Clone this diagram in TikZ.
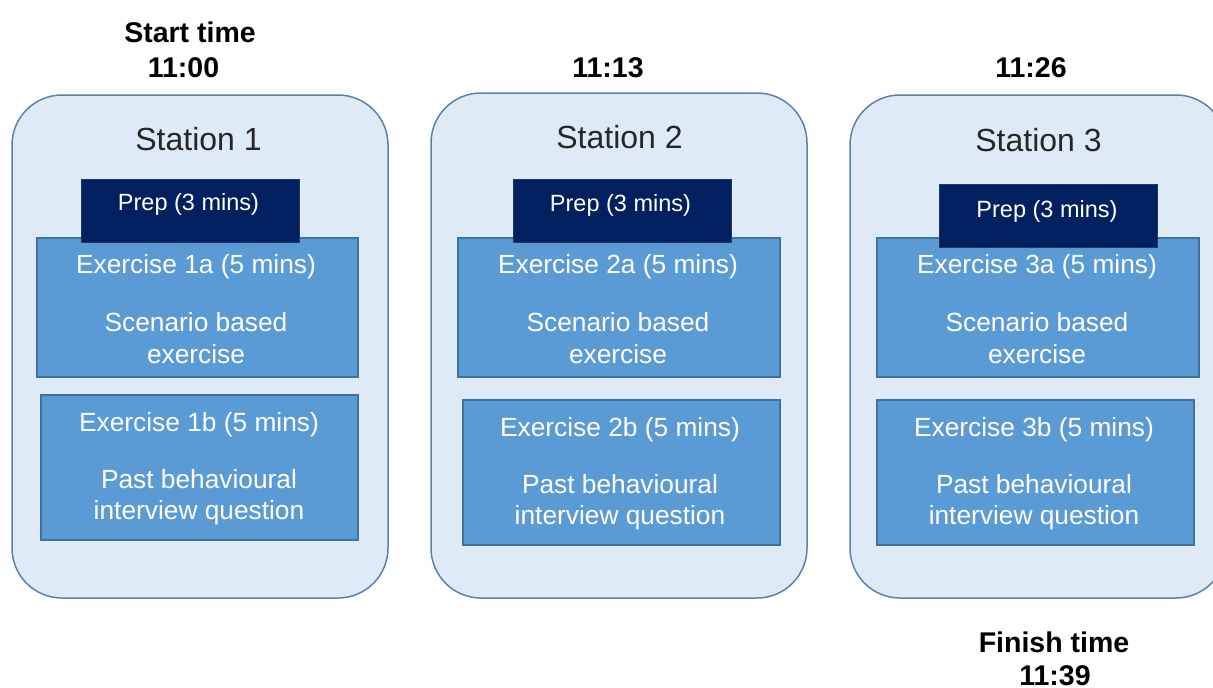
\documentclass[tikz,border=0pt]{standalone}
\usepackage{fontspec}
\setmainfont{Liberation Sans}
\definecolor{stationfill}{HTML}{DEEBF7}
\definecolor{stationline}{HTML}{5B82AC}
\definecolor{exfill}{HTML}{5B9BD5}
\definecolor{exline}{HTML}{41719C}
\definecolor{prepfill}{HTML}{002060}
\definecolor{prepline}{HTML}{1F3864}
\definecolor{titletext}{HTML}{262626}
\begin{document}
\begin{tikzpicture}[x=1pt,y=-1pt,
  station/.style={draw=stationline, fill=stationfill, line width=1.5pt,
    rounded corners=50pt, minimum width=376pt, inner sep=0pt},
  exbox/.style={draw=exline, fill=exfill, line width=1.2pt, inner sep=0pt},
  prepbox/.style={draw=prepline, fill=prepfill, line width=1pt, inner sep=0pt,
    minimum width=218pt, minimum height=63pt},
  stationlabel/.style={anchor=base, inner sep=0pt, text=titletext,
    font=\fontsize{32}{38}\selectfont},
  preplabel/.style={anchor=base, inner sep=0pt, text=white,
    font=\fontsize{23.5}{28}\selectfont},
  exlabel/.style={anchor=base, inner sep=0pt, text=white,
    font=\fontsize{26.3}{31}\selectfont},
  timelabel/.style={anchor=base, inner sep=0pt, text=black,
    font=\fontsize{28.5}{34}\selectfont\bfseries}]
\useasboundingbox (0,0) rectangle (1213,688);
\clip (0,0) rectangle (1213,688);

% start / intermediate / finish times
\node[timelabel] (start) at (190,42) {Start time};
\node[timelabel] (t1) at (183.5,77) {11:00};
\node[timelabel] (t2) at (608,77) {11:13};
\node[timelabel] (t3) at (1031,77) {11:26};
\node[timelabel] (finish) at (1054,652) {Finish time};
\node[timelabel] (t4) at (1055,685) {11:39};

% station frames
\node[station, minimum height=503pt] (s1) at (200,346.5) {};
\node[station, minimum height=505pt] (s2) at (619,345.5) {};
\node[station, minimum height=503pt] (s3) at (1038,346.5) {};

\node[stationlabel] (s1t) at (198.5,150) {Station 1};
\node[stationlabel] (s2t) at (619.5,148) {Station 2};
\node[stationlabel] (s3t) at (1038.5,151) {Station 3};

% exercise blocks
\node[exbox, minimum width=321pt, minimum height=139pt] (e1a) at (197.5,307.5) {};
\node[exbox, minimum width=317pt, minimum height=145pt] (e1b) at (199.5,467.5) {};
\node[exbox, minimum width=322pt, minimum height=139pt] (e2a) at (619,307.5) {};
\node[exbox, minimum width=317pt, minimum height=145pt] (e2b) at (621.5,472.5) {};
\node[exbox, minimum width=322pt, minimum height=139pt] (e3a) at (1038,307.5) {};
\node[exbox, minimum width=317pt, minimum height=145pt] (e3b) at (1035.5,472.5) {};

% preparation blocks, drawn over the top of the first exercise
\node[prepbox] (p1) at (190,210.5) {};
\node[prepbox] (p2) at (622,210.5) {};
\node[prepbox] (p3) at (1048,215.5) {};

\node[preplabel] (p1t) at (188.5,210) {Prep (3 mins)};
\node[preplabel] (p2t) at (620.5,211) {Prep (3 mins)};
\node[preplabel] (p3t) at (1047,217) {Prep (3 mins)};

% station 1 texts
\node[exlabel] (e1a1) at (196,273) {Exercise 1a (5 mins)};
\node[exlabel] (e1a2) at (196,331) {Scenario based};
\node[exlabel] (e1a3) at (196,363) {exercise};
\node[exlabel] (e1b1) at (199,431.5) {Exercise 1b (5 mins)};
\node[exlabel] (e1b2) at (199,488) {Past behavioural};
\node[exlabel] (e1b3) at (199,519) {interview question};

% station 2 texts
\node[exlabel] (e2a1) at (618,273) {Exercise 2a (5 mins)};
\node[exlabel] (e2a2) at (618,331) {Scenario based};
\node[exlabel] (e2a3) at (618,363) {exercise};
\node[exlabel] (e2b1) at (620,436.5) {Exercise 2b (5 mins)};
\node[exlabel] (e2b2) at (620,493) {Past behavioural};
\node[exlabel] (e2b3) at (620,524) {interview question};

% station 3 texts
\node[exlabel] (e3a1) at (1037,273) {Exercise 3a (5 mins)};
\node[exlabel] (e3a2) at (1037,331) {Scenario based};
\node[exlabel] (e3a3) at (1037,363) {exercise};
\node[exlabel] (e3b1) at (1034,436.5) {Exercise 3b (5 mins)};
\node[exlabel] (e3b2) at (1034,493) {Past behavioural};
\node[exlabel] (e3b3) at (1034,524) {interview question};
\end{tikzpicture}
\end{document}
